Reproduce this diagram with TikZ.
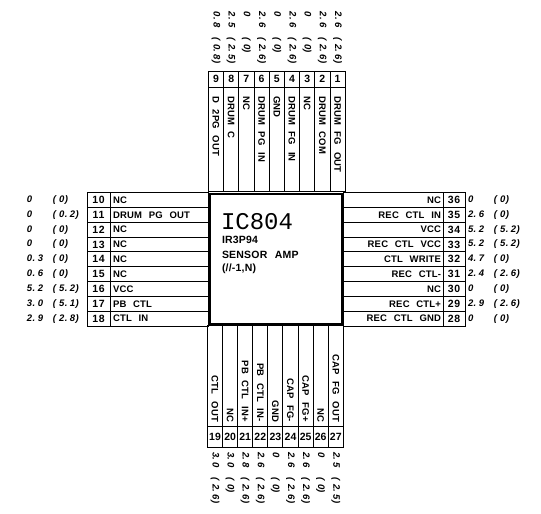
\documentclass[tikz,border=0pt]{standalone}
\usepackage{fontspec}
\setmainfont{Liberation Sans}
\newfontfamily\volt[LetterSpace=4]{Liberation Sans}
\newfontfamily\pinf[LetterSpace=6]{Liberation Sans}
\newfontfamily\lab[LetterSpace=2,WordSpace=2.4]{Liberation Sans}
\newfontfamily\icmono{Liberation Mono}
\newcommand{\vv}[2]{\makebox[26pt][l]{#1}(\hspace{3pt}#2)}
\newcommand{\dd}{.\hspace{2.5pt}}
\tikzset{
  x=1pt,y=-1pt,
  every node/.style={inner sep=0pt,outer sep=0pt},
  cell/.style={draw=black,line width=1pt,minimum width=#1,anchor=center},
  hcell/.style={cell=#1,minimum height=14.9pt},
  vcellT/.style={draw=black,line width=1pt,minimum width=15.2pt,minimum height=#1},
  vcellB/.style={draw=black,line width=1pt,minimum width=15.1pt,minimum height=#1},
  pinno/.style={font=\pinf\fontsize{10.5}{11}\selectfont\bfseries},
  pinnob/.style={font=\fontsize{10.5}{12}\selectfont\bfseries},
  pinlab/.style={font=\lab\fontsize{9.5}{10}\selectfont\bfseries},
  voltage/.style={font=\volt\fontsize{9.5}{10}\selectfont\itshape\bfseries},
  chip/.style={draw=black,line width=2pt,minimum width=132pt,minimum height=130pt},
  chiptext/.style={anchor=west,font=\lab\fontsize{10.5}{11}\selectfont\bfseries}
}
\begin{document}
\begin{tikzpicture}
\useasboundingbox (0,0) rectangle (541,514);
% left table
\foreach \n/\t/\v/\w [count=\i from 0] in {10/NC/0/0,11/DRUM PG OUT/0/0\dd 2,12/NC/0/0,13/NC/0/0,14/NC/0\dd 3/0,15/NC/0\dd 6/0,16/VCC/5\dd 2/5\dd 2,17/PB CTL/3\dd 0/5\dd 1,18/CTL IN/2\dd 9/2\dd 8}{
  \pgfmathsetmacro\yy{199.9+14.85*\i}
  \node[hcell=23pt] (ln\n) at (98.5,\yy) {};
  \node[hcell=98pt] (lb\n) at (159,\yy) {};
  \node[pinno] (lp\n) at (ln\n) {\n};
  \node[pinlab,anchor=west] (lt\n) at (113,\yy) {\t};
  \node[voltage,anchor=west] (lv\n) at (27,\yy) {\vv{\v}{\w}};
}
% right table
\foreach \n/\t/\v/\w [count=\i from 0] in {36/NC/0/0,35/REC CTL IN/2\dd 6/0,34/VCC/5\dd 2/5\dd 2,33/REC CTL VCC/5\dd 2/5\dd 2,32/CTL WRITE/4\dd 7/0,31/REC CTL-/2\dd 4/2\dd 6,30/NC/0/0,29/REC CTL+/2\dd 9/2\dd 6,28/REC CTL GND/0/0}{
  \pgfmathsetmacro\yy{199.9+14.85*\i}
  \node[hcell=100pt] (rb\n) at (393,\yy) {};
  \node[hcell=22pt] (rn\n) at (454,\yy) {};
  \node[pinno] (rp\n) at (rn\n) {\n};
  \node[pinlab,anchor=east] (rt\n) at (441,\yy) {\t};
  \node[voltage,anchor=west] (rv\n) at (468,\yy) {\vv{\v}{\w}};
}
% top table
\foreach \n/\t/\v/\w [count=\i from 0] in {9/D 2PG OUT/0\dd 8/0\dd 8,8/DRUM C/2\dd 5/2\dd 5,7/NC/0/0,6/DRUM PG IN/2\dd 6/2\dd 6,5/GND/0/0,4/DRUM FG IN/2\dd 6/2\dd 6,3/NC/0/0,2/DRUM COM/2\dd 6/2\dd 6,1/DRUM FG OUT/2\dd 6/2\dd 6}{
  \pgfmathsetmacro\xx{216+15.2*\i}
  \node[vcellT=16pt] (tn\n) at (\xx,79) {};
  \node[vcellT=104pt] (tb\n) at (\xx,139) {};
  \node[pinno] (tp\n) at (tn\n) {\n};
  \node[pinlab,rotate=-90,anchor=west] (tt\n) at (\xx,96) {\t};
  \node[voltage,rotate=-90,anchor=west] (tv\n) at (\xx,12) {\vv{\v}{\w}};
}
% bottom table
\foreach \n/\t/\v/\w [count=\i from 0] in {19/CTL OUT/3\dd 0/2\dd 6,20/NC/3\dd 0/0,21/PB CTL IN+/2\dd 8/2\dd 6,22/PB CTL IN-/2\dd 6/2\dd 6,23/GND/0/0,24/CAP FG-/2\dd 6/2\dd 6,25/CAP FG+/2\dd 6/2\dd 6,26/NC/0/0,27/CAP FG OUT/2\dd 5/2\dd 5}{
  \pgfmathsetmacro\xx{215+15.1*\i}
  \node[vcellB=101pt] (bb\n) at (\xx,375.5) {};
  \node[vcellB=21pt] (bn\n) at (\xx,436.5) {};
  \node[pinnob] (bp\n) at (bn\n) {\n};
  \node[pinlab,rotate=-90,anchor=east] (bt\n) at (\xx,422) {\t};
  \node[voltage,rotate=-90,anchor=west] (bv\n) at (\xx,452) {\vv{\v}{\w}};
}
% chip
\node[chip,fill=white] (ic) at (276,258.5) {};
\node[anchor=west,font=\icmono\fontsize{24}{25}\selectfont] (icname) at (221,221.5) {IC804};
\node[chiptext] (ictype) at (222,240) {IR3P94};
\node[chiptext] (icfunc) at (222,254.5) {SENSOR AMP};
\node[chiptext] (icnote) at (222,269) {(//-1,N)};
\end{tikzpicture}
\end{document}
